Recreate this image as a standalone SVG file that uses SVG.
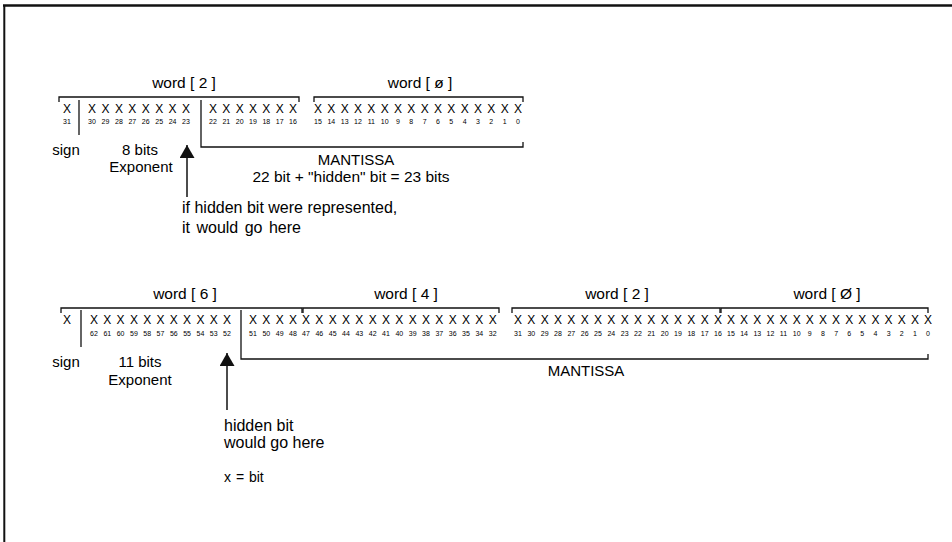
<svg xmlns="http://www.w3.org/2000/svg" width="952" height="542" viewBox="0 0 952 542">
<style>
text{font-family:"Liberation Sans",Arial,sans-serif;fill:#000}
.lbl{font-size:15px}
.w{font-size:15.5px;text-anchor:middle}
.big{font-size:16px}
.x{font-size:12px;text-anchor:middle}
.n{font-size:7px;text-anchor:middle}
.mid{text-anchor:middle}
.ln{stroke:#111;stroke-width:1.3;fill:none}
.small{font-size:14px;word-spacing:1px}
</style>
<defs>
<marker id="ah" viewBox="0 0 13 15" refX="13" refY="7.5" markerWidth="13" markerHeight="15" markerUnits="userSpaceOnUse" orient="auto">
<path d="M0,0 L13,7.5 L0,15 Z" fill="#111"/>
</marker>
</defs>
<g id="frame">
<line x1="3" y1="5.5" x2="952" y2="5.5" stroke="#111" stroke-width="2.4"/>
<line x1="4.3" y1="5" x2="4.3" y2="542" stroke="#111" stroke-width="2"/>
</g>
<g id="single-precision">
<text class="w" x="184" y="88">word [ 2 ]</text>
<text class="w" x="420" y="88">word [ ø ]</text>
<path class="ln" d="M59,102 V97 H299 V102"/>
<path class="ln" d="M314,102 V97 H523 V102"/>
<line class="ln" x1="79" y1="100" x2="79" y2="135"/>
<path class="ln" d="M201,100 V147 H523 V142"/>
<text class="x" y="113" x="67 92 105.4 118.9 132.3 145.7 159.2 172.6 186 213 226.3 239.7 253 266.3 279.7 293 318 331.3 344.7 358 371.3 384.7 398 411.3 424.7 438 451.3 464.7 478 491.3 504.7 518">XXXXXXXXXXXXXXXXXXXXXXXXXXXXXXXX</text>
<text class="n" y="124"><tspan x="67">31</tspan><tspan x="92">30</tspan><tspan x="105.4">29</tspan><tspan x="118.9">28</tspan><tspan x="132.3">27</tspan><tspan x="145.7">26</tspan><tspan x="159.2">25</tspan><tspan x="172.6">24</tspan><tspan x="186">23</tspan><tspan x="213">22</tspan><tspan x="226.3">21</tspan><tspan x="239.7">20</tspan><tspan x="253">19</tspan><tspan x="266.3">18</tspan><tspan x="279.7">17</tspan><tspan x="293">16</tspan><tspan x="318">15</tspan><tspan x="331.3">14</tspan><tspan x="344.7">13</tspan><tspan x="358">12</tspan><tspan x="371.3">11</tspan><tspan x="384.7">10</tspan><tspan x="398">9</tspan><tspan x="411.3">8</tspan><tspan x="424.7">7</tspan><tspan x="438">6</tspan><tspan x="451.3">5</tspan><tspan x="464.7">4</tspan><tspan x="478">3</tspan><tspan x="491.3">2</tspan><tspan x="504.7">1</tspan><tspan x="518">0</tspan></text>
<text class="lbl mid" x="66" y="155">sign</text>
<text class="lbl mid" x="140" y="155">8 bits</text>
<text class="lbl mid" x="141" y="172">Exponent</text>
<text class="lbl mid" x="356" y="165">MANTISSA</text>
<text class="lbl mid" x="351" y="182" style="font-size:15.5px">22 bit + "hidden" bit = 23 bits</text>
<text class="big" x="182" y="213">if hidden bit were represented,</text>
<text class="big" x="182" y="233" style="word-spacing:2px">it would go here</text>
</g>
<g id="double-precision">
<text class="w" x="185" y="299">word [ 6 ]</text>
<text class="w" x="406" y="299">word [ 4 ]</text>
<text class="w" x="617" y="299">word [ 2 ]</text>
<text class="w" x="827" y="299">word [ Ø ]</text>
<path class="ln" d="M61,313 V308 H302 V313"/>
<path class="ln" d="M303,313 V308 H499 V313"/>
<path class="ln" d="M512,313 V308 H720 V313"/>
<path class="ln" d="M721,313 V308 H928 V313"/>
<line class="ln" x1="81" y1="310" x2="81" y2="347"/>
<path class="ln" d="M241,310 V359 H928 V354"/>
<text class="x" y="324" x="67 94 107.3 120.6 133.9 147.2 160.5 173.8 187.1 200.4 213.7 227 253 266.3 279.7 293 306 319.3 332.7 346 359.3 372.7 386 399.3 412.7 426 439.3 452.7 466 479.3 492.7 518 531.3 544.7 558 571.3 584.7 598 611.3 624.7 638 651.3 664.7 678 691.3 704.7 718 731 744.1 757.3 770.4 783.5 796.7 809.8 822.9 836.1 849.2 862.3 875.4 888.6 901.7 914.9 928">XXXXXXXXXXXXXXXXXXXXXXXXXXXXXXXXXXXXXXXXXXXXXXXXXXXXXXXXXXXXXXX</text>
<text class="n" y="336"><tspan x="94">62</tspan><tspan x="107.3">61</tspan><tspan x="120.6">60</tspan><tspan x="133.9">59</tspan><tspan x="147.2">58</tspan><tspan x="160.5">57</tspan><tspan x="173.8">56</tspan><tspan x="187.1">55</tspan><tspan x="200.4">54</tspan><tspan x="213.7">53</tspan><tspan x="227">52</tspan><tspan x="253">51</tspan><tspan x="266.3">50</tspan><tspan x="279.7">49</tspan><tspan x="293">48</tspan><tspan x="306">47</tspan><tspan x="319.3">46</tspan><tspan x="332.7">45</tspan><tspan x="346">44</tspan><tspan x="359.3">43</tspan><tspan x="372.7">42</tspan><tspan x="386">41</tspan><tspan x="399.3">40</tspan><tspan x="412.7">39</tspan><tspan x="426">38</tspan><tspan x="439.3">37</tspan><tspan x="452.7">36</tspan><tspan x="466">35</tspan><tspan x="479.3">34</tspan><tspan x="492.7">32</tspan><tspan x="518">31</tspan><tspan x="531.3">30</tspan><tspan x="544.7">29</tspan><tspan x="558">28</tspan><tspan x="571.3">27</tspan><tspan x="584.7">26</tspan><tspan x="598">25</tspan><tspan x="611.3">24</tspan><tspan x="624.7">23</tspan><tspan x="638">22</tspan><tspan x="651.3">21</tspan><tspan x="664.7">20</tspan><tspan x="678">19</tspan><tspan x="691.3">18</tspan><tspan x="704.7">17</tspan><tspan x="718">16</tspan><tspan x="731">15</tspan><tspan x="744.1">14</tspan><tspan x="757.3">13</tspan><tspan x="770.4">12</tspan><tspan x="783.5">11</tspan><tspan x="796.7">10</tspan><tspan x="809.8">9</tspan><tspan x="822.9">8</tspan><tspan x="836.1">7</tspan><tspan x="849.2">6</tspan><tspan x="862.3">5</tspan><tspan x="875.4">4</tspan><tspan x="888.6">3</tspan><tspan x="901.7">2</tspan><tspan x="914.9">1</tspan><tspan x="928">0</tspan></text>
<text class="lbl mid" x="66" y="367">sign</text>
<text class="lbl mid" x="140" y="367">11 bits</text>
<text class="lbl mid" x="140" y="385">Exponent</text>
<text class="lbl mid" x="586" y="376">MANTISSA</text>
<text class="big" x="224" y="431">hidden bit</text>
<text class="big" x="224" y="448">would go here</text>
<text class="small" x="224" y="482">x = bit</text>
</g>
<g id="connectors">
<line x1="187" y1="197" x2="187" y2="145" stroke="#111" stroke-width="1.5" marker-end="url(#ah)"/>
<line x1="227" y1="410" x2="227" y2="353" stroke="#111" stroke-width="1.5" marker-end="url(#ah)"/>
</g>
</svg>
